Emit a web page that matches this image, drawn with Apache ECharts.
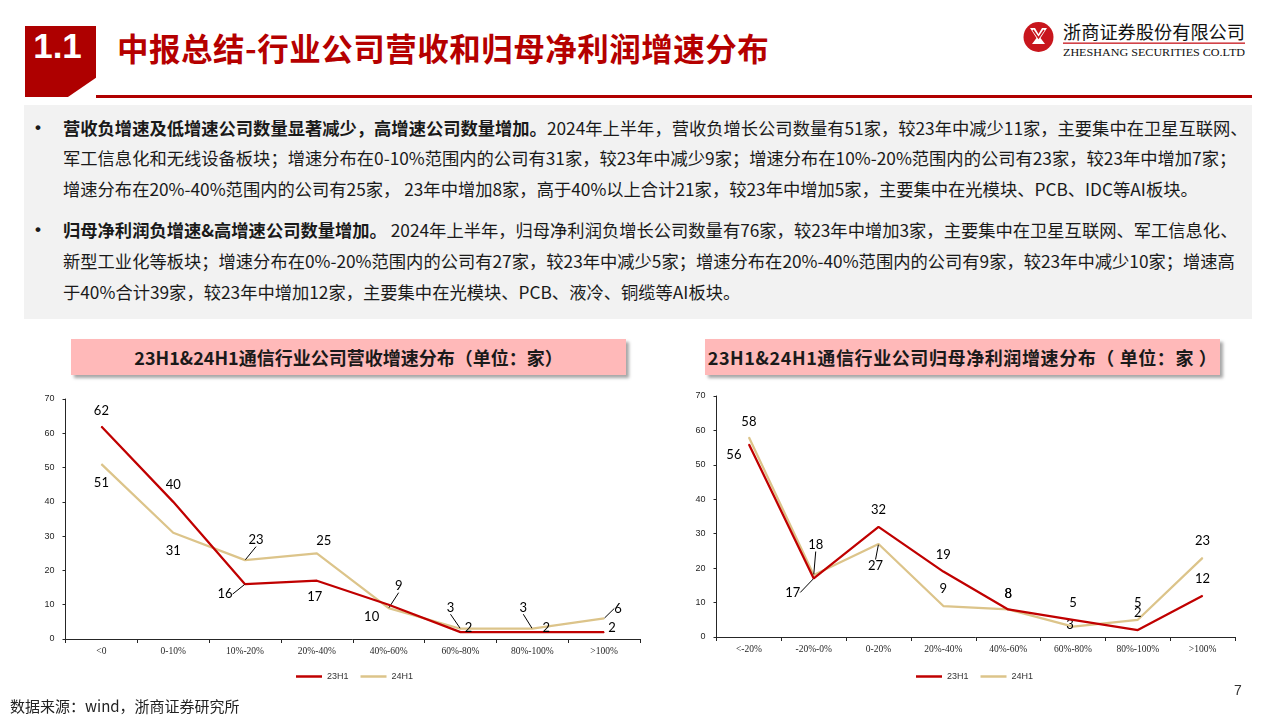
<!DOCTYPE html>
<html>
<head>
<meta charset="utf-8">
<script src="https://cdn.jsdelivr.net/npm/echarts@6/dist/echarts.min.js"></script>
<style>
  html, body { margin:0; padding:0; background:#fff; }
  body { width:1280px; height:720px; position:relative; overflow:hidden; font-family:"Noto Sans CJK SC", sans-serif; }
  .abs { position:absolute; }
  #numbox { left:25px; top:26px; width:71px; height:71px; background:#AE0000;
    clip-path: polygon(0 0,100% 0,100% 73%,60.5% 100%,0 100%); }
  #numtxt { left:25px; top:26px; width:65px; height:47px; line-height:47px; text-align:center; color:#fff;
    font:bold 35px "Liberation Sans", Arial, sans-serif; }
  #title { left:117px; top:27px; font-size:31.5px; font-weight:700; color:#B50000; white-space:nowrap; line-height:40px; letter-spacing:0.5px; }
  #hline { left:96px; top:95px; width:1156px; height:2.5px; background:#B00000; }
  #textbox { left:24px; top:105px; width:1228px; height:214px; background:#F2F2F2; }
  .line { position:absolute; left:63px; white-space:nowrap; font-size:17.3px; color:#1a1a1a; line-height:22px; }
  .bullet { position:absolute; font:bold 17px "Liberation Sans", Arial, sans-serif; color:#1a1a1a; line-height:22px; }
  .ctitle { position:absolute; top:339px; height:36px; background:#FFB9B9; box-shadow:3px 3px 3px rgba(0,0,0,0.35);
    text-align:center; line-height:36px; font-size:18px; font-weight:700; color:#1a1a1a; white-space:nowrap; }
  #src { left:10px; top:695px; font-size:15px; color:#222; white-space:nowrap; line-height:22px; }
  #pg { left:1234px; top:682px; font:14px "Liberation Sans", Arial, sans-serif; color:#333; }
  #chart { left:0; top:380px; width:1280px; height:320px; }
</style>
</head>
<body>
<div id="numbox" class="abs"></div>
<div id="numtxt" class="abs">1.1</div>
<div id="title" class="abs">中报总结-行业公司营收和归母净利润增速分布</div>
<div id="hline" class="abs"></div>

<svg class="abs" style="left:1015px;top:15px" width="245" height="48" viewBox="1015 15 245 48">
  <circle cx="1038.5" cy="37" r="15" fill="#C8161D"/>
  <path d="M1030 28 L1035 28 L1038.5 34 L1042 28 L1047 28 L1040.5 38 L1045 44 L1032 44 L1036.5 38 Z" fill="#fff"/>
  <path d="M1033 30 L1038.5 38 L1044 30" fill="none" stroke="#C8161D" stroke-width="1.5"/>
  <text x="1063" y="39" font-family="Noto Sans CJK SC" font-size="18" fill="#111" textLength="182" lengthAdjust="spacingAndGlyphs">浙商证券股份有限公司</text>
  <rect x="1063" y="42.5" width="182" height="1.3" fill="#C8161D"/>
  <text x="1063" y="56" font-family="Liberation Serif" font-size="11" fill="#111" textLength="182" lengthAdjust="spacingAndGlyphs">ZHESHANG SECURITIES CO.LTD</text>
</svg>

<div id="textbox" class="abs">
  <div class="bullet" style="left:11px;top:12px">•</div>
  <div class="line" style="left:39px;top:12px"><b>营收负增速及低增速公司数量显著减少，高增速公司数量增加。</b>2024年上半年，营收负增长公司数量有51家，较23年中减少11家，主要集中在卫星互联网、</div>
  <div class="line" style="left:39px;top:42px">军工信息化和无线设备板块；增速分布在0-10%范围内的公司有31家，较23年中减少9家；增速分布在10%-20%范围内的公司有23家，较23年中增加7家；</div>
  <div class="line" style="left:39px;top:73px">增速分布在20%-40%范围内的公司有25家， 23年中增加8家，高于40%以上合计21家，较23年中增加5家，主要集中在光模块、PCB、IDC等AI板块。</div>
  <div class="bullet" style="left:11px;top:114px">•</div>
  <div class="line" style="left:39px;top:114px"><b>归母净利润负增速&amp;高增速公司数量增加。</b> 2024年上半年，归母净利润负增长公司数量有76家，较23年中增加3家，主要集中在卫星互联网、军工信息化、</div>
  <div class="line" style="left:39px;top:145px">新型工业化等板块；增速分布在0%-20%范围内的公司有27家，较23年中减少5家；增速分布在20%-40%范围内的公司有9家，较23年中减少10家；增速高</div>
  <div class="line" style="left:39px;top:176px">于40%合计39家，较23年中增加12家，主要集中在光模块、PCB、液冷、铜缆等AI板块。</div>
</div>

<div class="ctitle" style="left:71px;width:555px;">23H1&amp;24H1通信行业公司营收增速分布（单位：家）</div>
<div class="ctitle" style="left:705px;width:515px;letter-spacing:0.6px;">23H1&amp;24H1通信行业公司归母净利润增速分布（ 单位：家 ）</div>

<div id="chart" class="abs"></div>
<div id="src" class="abs">数据来源：wind，浙商证券研究所</div>
<div id="pg" class="abs">7</div>

<script>
// ---- data ----
const seriesNames = ['23H1', '24H1'];
const revCategories = ['<0', '0-10%', '10%-20%', '20%-40%', '40%-60%', '60%-80%', '80%-100%', '>100%'];
const rev23H1 = [62, 40, 16, 17, 10, 2, 2, 2];
const rev24H1 = [51, 31, 23, 25, 9, 3, 3, 6];
const profitCategories = ['<-20%', '-20%-0%', '0-20%', '20%-40%', '40%-60%', '60%-80%', '80%-100%', '>100%'];
const profit23H1 = [56, 17, 32, 19, 8, 5, 2, 12];
const profit24H1 = [58, 18, 27, 9, 8, 3, 5, 23];
const yTicks = { min: 0, max: 70, interval: 10 };

// ---- label layout (offsets of label centre from point, px) ----
const revLbl23 = [[0,-16],[0,-17],[-20,10],[-2,16],[-17,12],[8,-4],[14,-4],[8,-4]];
const revLbl24 = [[0,19],[0,18],[11,-20],[7,-12],[10,-22],[-10,-21],[-9,-21],[14,-10]];
const revLead23 = [2];
const revLead24 = [2,4,5,6,7];
const proLbl23 = [[-15,11],[-21,14],[0,-17],[0,-17],[0,-16],[0,-17],[0,-17],[0,-17]];
const proLbl24 = [[0,-16],[2,-30],[-3,22],[0,-17],[0,-16],[-3,-2],[0,-17],[0,-17]];
const proLead23 = [1];
const proLead24 = [1,2];

const RED = '#C00000', KHAKI = '#DCC48A', AXIS = '#262626';

function mkSeries(name, vals, offs, leads, color, gi) {
  return {
    name: name, type: 'line', xAxisIndex: gi, yAxisIndex: gi,
    symbol: 'circle', symbolSize: 1, showSymbol: true,
    itemStyle: { color: color },
    lineStyle: { color: color, width: 2.25 },
    label: { show: true, position: 'inside', color: '#000', fontSize: 13, fontFamily: 'Lato, "Liberation Sans", sans-serif' },
    labelLine: { show: false, lineStyle: { color: '#000', width: 1 } },
    labelLayout: function (p) { const o = offs[p.dataIndex]; return { dx: o[0], dy: o[1] }; },
    data: vals.map(function (v, i) { return { value: v, labelLine: { show: leads.indexOf(i) >= 0 } }; }),
    emphasis: { disabled: true },
    z: name === '23H1' ? 3 : 2
  };
}

function mkX(cats, gi) {
  return {
    type: 'category', gridIndex: gi, data: cats,
    axisLine: { show: true, lineStyle: { color: AXIS, width: 1 } },
    axisTick: { show: true, length: 4, lineStyle: { color: AXIS } },
    axisLabel: { interval: 0, margin: 7, fontSize: 9.5, color: AXIS, fontFamily: '"Liberation Serif", serif' },
    splitLine: { show: false }
  };
}
function mkY(gi) {
  return {
    type: 'value', gridIndex: gi, min: yTicks.min, max: yTicks.max, interval: yTicks.interval,
    axisLine: { show: true, lineStyle: { color: AXIS, width: 1 } },
    axisTick: { show: true, length: 3, lineStyle: { color: AXIS } },
    axisLabel: { margin: 11, fontSize: 9, color: AXIS, fontFamily: '"Liberation Sans", Arial, sans-serif' },
    splitLine: { show: false }
  };
}

const chart = echarts.init(document.getElementById('chart'), null, { renderer: 'canvas' });
const legendBase = {
  data: seriesNames, icon: 'rect', itemWidth: 26, itemHeight: 2.5, itemGap: 12, padding: 0,
  textStyle: { fontSize: 9, color: '#333', fontFamily: '"Liberation Sans", Arial, sans-serif' },
  selectedMode: false
};
chart.setOption({
  animation: false,
  grid: [
    { left: 65.5, top: 19, width: 574.5, height: 240 },
    { left: 716.5, top: 16, width: 518.5, height: 241 }
  ],
  legend: [
    Object.assign({ left: 296, top: 292 }, legendBase),
    Object.assign({ left: 916, top: 292 }, legendBase)
  ],
  xAxis: [mkX(revCategories, 0), mkX(profitCategories, 1)],
  yAxis: [mkY(0), mkY(1)],
  series: [
    mkSeries(seriesNames[0], rev23H1, revLbl23, revLead23, RED, 0),
    mkSeries(seriesNames[1], rev24H1, revLbl24, revLead24, KHAKI, 0),
    mkSeries(seriesNames[0], profit23H1, proLbl23, proLead23, RED, 1),
    mkSeries(seriesNames[1], profit24H1, proLbl24, proLead24, KHAKI, 1)
  ]
});
</script>
</body>
</html>
